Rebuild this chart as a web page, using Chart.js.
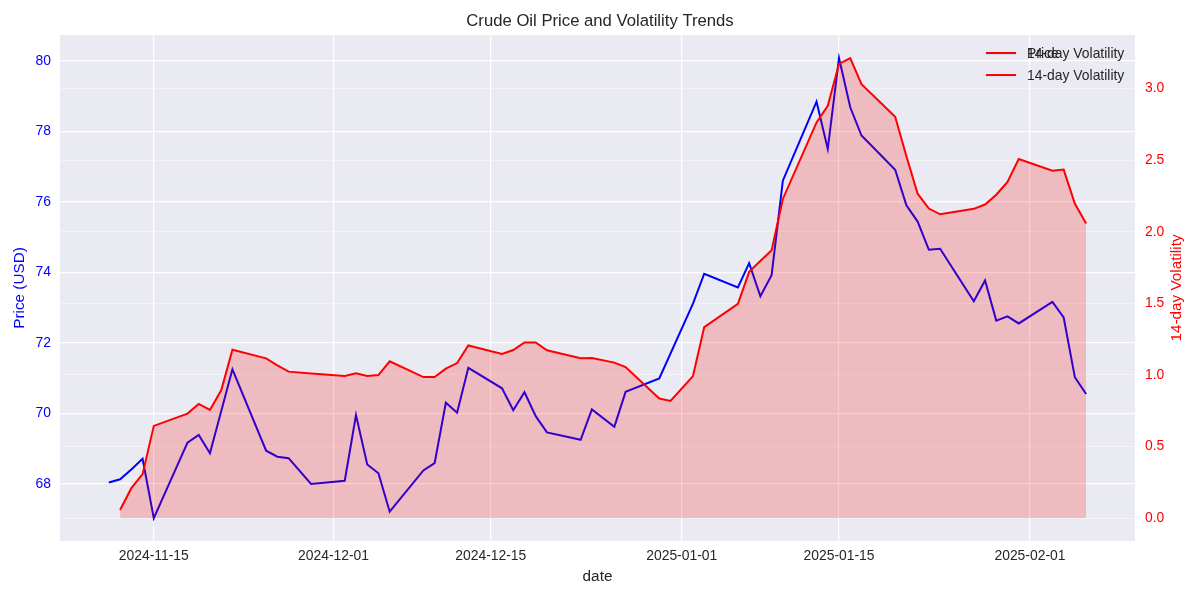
<!DOCTYPE html>
<html>
<head>
<meta charset="utf-8">
<title>Crude Oil Price and Volatility Trends</title>
<script src="https://cdn.jsdelivr.net/npm/chart.js@4.4.1/dist/chart.umd.min.js"></script>
<style>
  html, body { margin: 0; padding: 0; background: #fff; }
</style>
</head>
<body>
<canvas id="chart" width="1200" height="600"></canvas>
<script>
// Data (trading days)
const dates = [
    '2024-11-11','2024-11-12','2024-11-13','2024-11-14','2024-11-15',
    '2024-11-18','2024-11-19','2024-11-20','2024-11-21','2024-11-22',
    '2024-11-25','2024-11-26','2024-11-27','2024-11-29',
    '2024-12-02','2024-12-03','2024-12-04','2024-12-05','2024-12-06',
    '2024-12-09','2024-12-10','2024-12-11','2024-12-12','2024-12-13',
    '2024-12-16','2024-12-17','2024-12-18','2024-12-19','2024-12-20',
    '2024-12-23','2024-12-24','2024-12-26','2024-12-27',
    '2024-12-30','2024-12-31',
    '2025-01-02','2025-01-03',
    '2025-01-06','2025-01-07','2025-01-08','2025-01-09','2025-01-10',
    '2025-01-13','2025-01-14','2025-01-15','2025-01-16','2025-01-17',
    '2025-01-20','2025-01-21','2025-01-22','2025-01-23','2025-01-24',
    '2025-01-27','2025-01-28','2025-01-29','2025-01-30','2025-01-31',
    '2025-02-03','2025-02-04','2025-02-05','2025-02-06'
];
const price = [
    68.04, 68.13, 68.41, 68.71, 67.03,
    69.17, 69.39, 68.87, null, 71.25,
    68.94, 68.77, 68.73, 68.00,
    68.09, 69.95, 68.55, 68.30, 67.21,
    68.38, 68.59, 70.30, 70.02, 71.29,
    70.71, 70.09, 70.60, 69.92, 69.46,
    69.25, 70.11, 69.62, 70.61,
    70.99, null,
    73.11, 73.96,
    73.57, 74.26, 73.32, 73.92, 76.60,
    78.84, 77.50, 80.08, 78.68, 77.88,
    76.91, 75.90, 75.44, 74.64, 74.67,
    73.18, 73.77, 72.63, 72.75, 72.55,
    73.16, 72.72, 71.02, 70.55
];
const volatility = [
    null, 0.056, 0.209, 0.307, 0.644,
    0.730, 0.797, 0.755, 0.893, 1.176,
    1.116, 1.067, 1.023, 1.010,
    0.992, 1.011, 0.992, 0.999, 1.095,
    0.985, 0.985, 1.044, 1.083, 1.206,
    1.146, 1.174, 1.227, 1.227, 1.172,
    1.116, 1.118, 1.086, 1.055,
    0.835, 0.818,
    0.992, 1.334,
    1.497, 1.720, 1.796, 1.871, 2.229,
    2.764, 2.880, 3.173, 3.213, 3.031,
    2.803, 2.527, 2.266, 2.162, 2.122,
    2.160, 2.190, 2.259, 2.348, 2.508,
    2.427, 2.434, 2.195, 2.057
];
const dateTicks = ['2024-11-15','2024-12-01','2024-12-15','2025-01-01','2025-01-15','2025-02-01'];
const priceTicks = [68, 70, 72, 74, 76, 78, 80];
const volTicks = [0, 0.5, 1.0, 1.5, 2.0, 2.5, 3.0];

const FONT = "'Liberation Sans', Arial, sans-serif";
const TEXT = '#262626';
const BASE = Date.UTC(2024, 10, 11);

function dayNum(s) {
    const [y, m, d] = s.split('-').map(Number);
    return (Date.UTC(y, m - 1, d) - BASE) / 86400000;
}
function dayLabel(v) {
    return new Date(BASE + Math.round(v) * 86400000).toISOString().slice(0, 10);
}

// Background: white figure, grey plot area
const bgPlugin = {
    id: 'bg',
    beforeDraw(chart) {
        const { ctx, chartArea: a } = chart;
        ctx.save();
        ctx.fillStyle = '#ffffff';
        ctx.fillRect(0, 0, chart.width, chart.height);
        ctx.fillStyle = '#eaeaf2';
        ctx.fillRect(a.left, a.top, a.right - a.left, a.bottom - a.top);
        ctx.restore();
    }
};

// Two legends stacked at the same corner, like the original
const legendEntries = [
    { text: 'Price', color: '#0000ff', row: 0 },
    { text: '14-day Volatility', color: '#ff0000', row: 0 },
    { text: '14-day Volatility', color: '#ff0000', row: 1 }
];
const legendPlugin = {
    id: 'stackedLegend',
    afterDraw(chart) {
        const { ctx, chartArea: a } = chart;
        ctx.save();
        ctx.font = '13.9px ' + FONT;
        ctx.textBaseline = 'middle';
        ctx.textAlign = 'left';
        legendEntries.forEach(e => {
            const y = a.top + 18 + e.row * 22;
            ctx.strokeStyle = e.color;
            ctx.lineWidth = 2;
            ctx.beginPath();
            ctx.moveTo(a.right - 149, y);
            ctx.lineTo(a.right - 119, y);
            ctx.stroke();
            ctx.fillStyle = TEXT;
            ctx.fillText(e.text, a.right - 108, y + 1);
        });
        ctx.restore();
    }
};

// Right axis title reads bottom-to-top
const rightTitlePlugin = {
    id: 'rightTitle',
    afterDraw(chart) {
        const { ctx, chartArea: a } = chart;
        ctx.save();
        ctx.translate(1177, (a.top + a.bottom) / 2);
        ctx.rotate(-Math.PI / 2);
        ctx.font = '15.3px ' + FONT;
        ctx.fillStyle = '#ff0000';
        ctx.textAlign = 'center';
        ctx.textBaseline = 'middle';
        ctx.fillText('14-day Volatility', 0, 0);
        ctx.restore();
    }
};

Chart.defaults.font.family = FONT;

new Chart(document.getElementById('chart').getContext('2d'), {
    type: 'line',
    data: {
        datasets: [
            {
                label: 'Price',
                data: dates.map((d, i) => ({ x: dayNum(d), y: price[i] })),
                yAxisID: 'yPrice',
                borderColor: '#0000ff',
                borderWidth: 2,
                pointRadius: 0,
                tension: 0,
                spanGaps: true,
                fill: false,
                order: 1
            },
            {
                label: '14-day Volatility',
                data: dates.map((d, i) => ({ x: dayNum(d), y: volatility[i] })),
                yAxisID: 'yVol',
                borderColor: '#ff0000',
                backgroundColor: 'rgba(255, 0, 0, 0.2)',
                borderWidth: 2,
                pointRadius: 0,
                tension: 0,
                fill: { value: 0 },
                order: 0
            }
        ]
    },
    options: {
        responsive: false,
        animation: false,
        devicePixelRatio: 1,
        layout: { padding: 0 },
        plugins: {
            legend: { display: false },
            tooltip: { enabled: false },
            title: {
                display: true,
                text: 'Crude Oil Price and Volatility Trends',
                color: TEXT,
                font: { family: FONT, size: 16.7, weight: 'normal' },
                padding: { top: 11, bottom: 4 }
            }
        },
        scales: {
            x: {
                type: 'linear',
                min: -4.35,
                max: 91.35,
                afterBuildTicks: s => { s.ticks = dateTicks.map(d => ({ value: dayNum(d) })); },
                afterFit: s => { s.height = 59; },
                ticks: {
                    callback: v => dayLabel(v),
                    color: TEXT,
                    font: { size: 13.9 },
                    padding: 7,
                    maxRotation: 0,
                    autoSkip: false
                },
                grid: { color: '#ffffff', lineWidth: 1.2, drawTicks: false },
                border: { display: false },
                title: {
                    display: true,
                    text: 'date',
                    color: TEXT,
                    font: { size: 15.3 },
                    padding: { top: 0, bottom: 14 }
                }
            },
            yPrice: {
                type: 'linear',
                position: 'left',
                min: 66.38,
                max: 80.73,
                afterBuildTicks: s => { s.ticks = priceTicks.map(v => ({ value: v })); },
                afterFit: s => { s.width = 60; },
                ticks: { color: '#0000ff', font: { size: 13.9 }, padding: 9 },
                grid: { color: '#ffffff', lineWidth: 1.2, drawTicks: false },
                border: { display: false },
                title: {
                    display: true,
                    text: 'Price (USD)',
                    color: '#0000ff',
                    font: { size: 15.3 },
                    padding: { top: 11, bottom: 0 }
                }
            },
            yVol: {
                type: 'linear',
                position: 'right',
                min: -0.16,
                max: 3.374,
                afterBuildTicks: s => { s.ticks = volTicks.map(v => ({ value: v })); },
                afterFit: s => { s.width = 65; },
                ticks: {
                    color: '#ff0000',
                    font: { size: 13.9 },
                    padding: 10,
                    callback: v => v.toFixed(1)
                },
                grid: { color: 'rgba(255, 255, 255, 0.45)', lineWidth: 1, drawTicks: false },
                border: { display: false }
            }
        }
    },
    plugins: [bgPlugin, legendPlugin, rightTitlePlugin]
});
</script>
</body>
</html>
